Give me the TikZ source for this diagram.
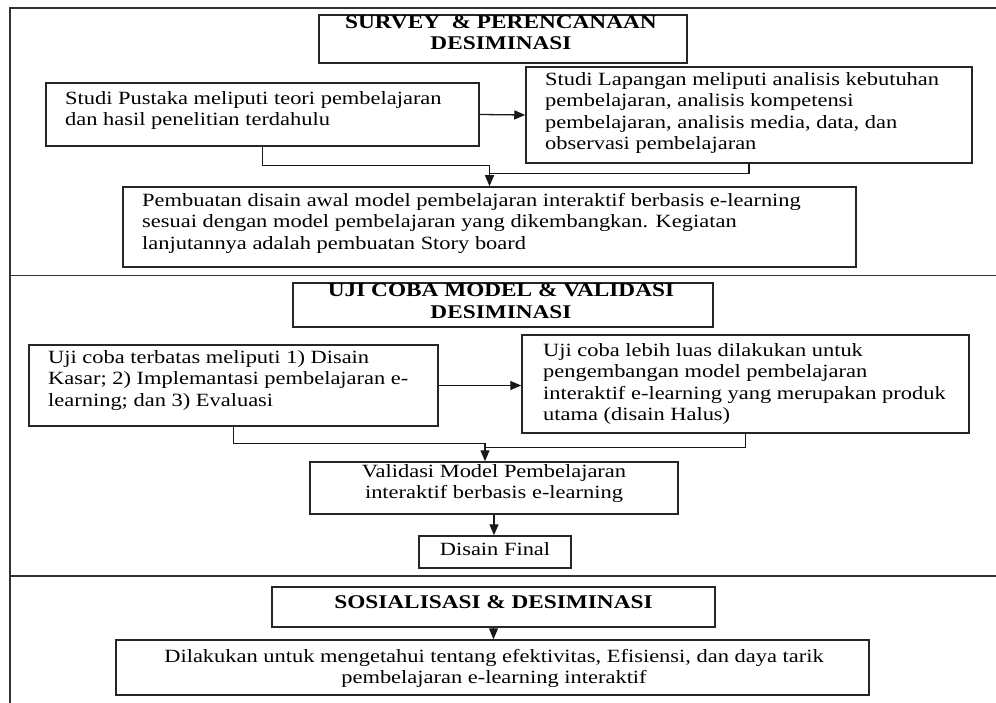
\documentclass[tikz,border=0pt]{standalone}
\usepackage{fontspec}
\setmainfont{Liberation Serif}[FakeStretch=1.2]
\usetikzlibrary{arrows.meta,calc}
\tikzset{
  box/.style={draw=black!85, line width=1.5pt, inner sep=0pt},
  txt/.style={inner sep=0pt, align=left, anchor=north west, font=\fontsize{18.7pt}{21.5pt}\selectfont, text=black},
  ctxt/.style={inner sep=0pt, align=center, anchor=north, font=\fontsize{18.7pt}{21.5pt}\selectfont, text=black},
  ttl/.style={inner sep=0pt, align=center, anchor=north, font=\fontsize{19.4pt}{21.5pt}\selectfont\bfseries, text=black},
  conn/.style={draw=black!90, line width=1.3pt},
  arr/.style={conn, -{Triangle[length=11pt,width=9pt]}},
  frame/.style={draw=black!80, line width=1.7pt}
}
\begin{document}
\begin{tikzpicture}[x=1pt,y=-1pt]
\useasboundingbox (0,0) rectangle (996,703);
% outer frame and section dividers
\draw[frame] (10,703) -- (10,8) -- (996,8);
\draw[frame] (10,275.5) -- (996,275.5);
\draw[frame] (10,576) -- (996,576);

% ---------- Section 1 ----------
\node[box, minimum width=368pt, minimum height=48pt] (t1) at (503,39) {};
\node[ttl] (t1T) at (501,15.2) {SURVEY\ \ \& PERENCANAAN\\DESIMINASI};

\node[box, minimum width=433pt, minimum height=63pt] (sp) at (262.5,114.5) {};
\node[txt] (spT) at (65,91) {Studi Pustaka meliputi teori pembelajaran\\dan hasil penelitian terdahulu};

\node[box, minimum width=446pt, minimum height=96pt] (sl) at (749,115) {};
\node[txt] (slT) at (545,72) {Studi Lapangan meliputi analisis kebutuhan\\pembelajaran, analisis kompetensi\\pembelajaran, analisis media, data, dan\\observasi pembelajaran};

\node[box, minimum width=733pt, minimum height=80pt] (pb) at (489.5,227) {};
\node[txt] (pbT) at (142,193) {Pembuatan disain awal model pembelajaran interaktif berbasis e-learning\\sesuai dengan model pembelajaran yang dikembangkan. Kegiatan\\lanjutannya adalah pembuatan Story board};

\draw[arr] (sp.east) -- (sl.west);
\coordinate (j1) at ($(pb.north)+(0,-21)$);
\draw[arr] (sp.south) |- (j1) -- (pb.north);
\draw[conn] (sl.south) |- ($(pb.north)+(0,-13)$);

% ---------- Section 2 ----------
\node[box, minimum width=420pt, minimum height=44pt] (t2) at (503,305) {};
\node[ttl] (t2T) at (501,283.5) {UJI COBA MODEL \& VALIDASI\\DESIMINASI};

\node[box, minimum width=409pt, minimum height=81pt] (ut) at (233.5,385.5) {};
\node[txt] (utT) at (48,350) {Uji coba terbatas meliputi 1) Disain\\Kasar; 2) Implemantasi pembelajaran e-\\learning; dan 3) Evaluasi};

\node[box, minimum width=447pt, minimum height=98pt] (ul) at (745.5,384) {};
\node[txt] (ulT) at (543,343) {Uji coba lebih luas dilakukan untuk\\pengembangan model pembelajaran\\interaktif e-learning yang merupakan produk\\utama (disain Halus)};

\node[box, minimum width=368pt, minimum height=52pt] (va) at (494,488) {};
\node[ctxt] (vaT) at (494,464) {Validasi Model Pembelajaran\\interaktif berbasis e-learning};

\node[box, minimum width=152pt, minimum height=32pt] (df) at (495,552) {};
\node[ctxt] (dfT) at (495,542) {Disain Final};

\draw[arr] (ut.east) -- (ut.east -| ul.west);
\coordinate (j2) at ($(va.north)+(-9,-18)$);
\draw[arr] (ut.south) |- (j2) -- (j2 |- va.north);
\draw[conn] (ul.south) |- ($(j2)+(0,4)$);
\draw[arr] (va.south) -- (va.south |- df.north);

% ---------- Section 3 ----------
\node[box, minimum width=443pt, minimum height=40pt] (t3) at (493.5,607) {};
\node[ttl] (t3T) at (493.5,595) {SOSIALISASI \& DESIMINASI};

\node[box, minimum width=753pt, minimum height=55pt] (dl) at (492.5,667.5) {};
\node[ctxt] (dlT) at (494,649) {Dilakukan untuk mengetahui tentang efektivitas, Efisiensi, dan daya tarik\\pembelajaran e-learning interaktif};

\draw[arr] (t3.south) -- (t3.south |- dl.north);
\end{tikzpicture}
\end{document}
